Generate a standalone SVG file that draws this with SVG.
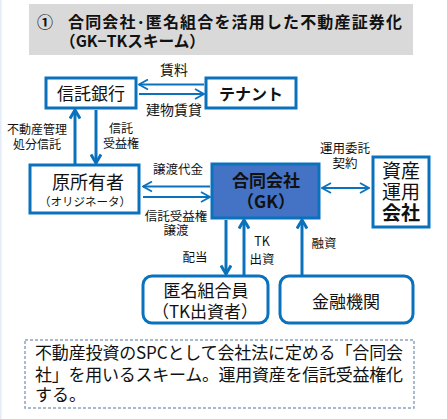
<svg xmlns="http://www.w3.org/2000/svg" width="447" height="419" viewBox="0 0 447 419">
<style>
text{font-family:"Noto Sans CJK JP","Noto Sans",sans-serif;fill:#111}
.box{fill:#fff;stroke:#0a72bd;stroke-width:3}
.lbl{font-size:12.5px;text-anchor:middle}
.c{text-anchor:middle}
.thin{stroke:#0a72bd;stroke-width:2;fill:none}
.thick{stroke:#0a72bd;stroke-width:3;fill:none}
</style>
<defs>
<marker id="ah" viewBox="0 0 12 12" refX="11" refY="6" markerWidth="12" markerHeight="12" markerUnits="userSpaceOnUse" orient="auto-start-reverse">
<path d="M2,1 L11,6 L2,11" fill="none" stroke="#0a72bd" stroke-width="1.8"/>
</marker>
<marker id="ahb" viewBox="0 0 12 12" refX="10.5" refY="6" markerWidth="12" markerHeight="12" markerUnits="userSpaceOnUse" orient="auto-start-reverse">
<path d="M2,1 L10.5,6 L2,11" fill="none" stroke="#0a72bd" stroke-width="3"/>
</marker>
</defs>
<rect x="0" y="0" width="447" height="419" fill="#fff"/>
<rect x="0" y="0" width="1.5" height="419" fill="#e2ebf6"/>

<g id="title">
<rect x="29" y="4" width="384" height="51" fill="#d9d9d9"/>
<text x="37" y="28" font-size="16" font-weight="bold">①</text>
<text x="68" y="28" font-size="16" font-weight="bold" textLength="334" lengthAdjust="spacing">合同会社･匿名組合を活用した不動産証券化</text>
<text x="60" y="47" font-size="16" font-weight="bold" textLength="145" lengthAdjust="spacingAndGlyphs">（GK−TKスキーム）</text>
</g>

<g id="connectors">
<line class="thin" x1="204" y1="84.5" x2="139" y2="84.5" marker-end="url(#ah)"/>
<line class="thin" x1="139" y1="94" x2="204" y2="94" marker-end="url(#ah)"/>
<line class="thick" x1="75" y1="164" x2="75" y2="110" marker-end="url(#ahb)"/>
<line class="thick" x1="96" y1="110" x2="96" y2="163" marker-end="url(#ahb)"/>
<line class="thin" x1="210" y1="186.5" x2="143" y2="186.5" marker-end="url(#ah)"/>
<line class="thin" x1="143" y1="197" x2="210" y2="197" marker-end="url(#ah)"/>
<line class="thin" x1="322" y1="188" x2="369" y2="188" marker-start="url(#ah)" marker-end="url(#ah)"/>
<line class="thick" x1="226" y1="220" x2="226" y2="274" marker-end="url(#ahb)"/>
<line class="thick" x1="244" y1="276" x2="244" y2="220" marker-end="url(#ahb)"/>
<line class="thick" x1="302" y1="276" x2="302" y2="220" marker-end="url(#ahb)"/>
</g>

<g id="labels">
<text class="c" x="174" y="75" font-size="14">賃料</text>
<text class="c" x="174" y="115" font-size="14">建物賃貸</text>
<text class="c" x="37" y="134" font-size="12">不動産管理</text>
<text class="c" x="37" y="149" font-size="12">処分信託</text>
<text class="c" x="121" y="133" font-size="12">信託</text>
<text class="c" x="121" y="148" font-size="12">受益権</text>
<text class="lbl" x="178" y="174">譲渡代金</text>
<text class="lbl" x="176" y="221" font-size="13">信託受益権</text>
<text class="lbl" x="176" y="235" font-size="13">譲渡</text>
<text class="lbl" x="345" y="153">運用委託</text>
<text class="lbl" x="345" y="168">契約</text>
<text class="lbl" x="195" y="262" font-size="13">配当</text>
<text class="lbl" x="262" y="246" font-size="13">TK</text>
<text class="lbl" x="262" y="264" font-size="13">出資</text>
<text class="lbl" x="324" y="248" font-size="13.5">融資</text>
</g>

<g id="shintaku">
<rect class="box" x="46" y="78" width="90" height="30"/>
<text class="c" x="91" y="100" font-size="17">信託銀行</text>
</g>
<g id="tenant">
<rect class="box" x="206" y="78" width="90" height="30"/>
<text class="c" x="251" y="100" font-size="16" font-weight="bold">テナント</text>
</g>
<g id="originator">
<rect class="box" x="30" y="165" width="109" height="48"/>
<text class="c" x="88" y="189" font-size="18">原所有者</text>
<text class="c" x="85" y="206" font-size="11.5">（オリジネータ）</text>
</g>
<g id="gk">
<rect x="212" y="164" width="107" height="54" fill="#4472c4" stroke="#0a72bd" stroke-width="3"/>
<text class="c" x="266" y="187" font-size="17" font-weight="bold">合同会社</text>
<text class="c" x="266" y="208" font-size="17" font-weight="bold">（GK）</text>
</g>
<g id="am">
<rect class="box" x="373" y="157" width="56" height="70"/>
<text class="c" x="401" y="178" font-size="19">資産</text>
<text class="c" x="401" y="199" font-size="19">運用</text>
<text class="c" x="401" y="220" font-size="19" font-weight="bold">会社</text>
</g>
<g id="tk">
<rect class="box" x="143" y="276" width="125" height="47" rx="9"/>
<text class="c" x="206" y="297" font-size="17">匿名組合員</text>
<text class="c" x="205" y="318" font-size="17">（TK出資者）</text>
</g>
<g id="bank">
<rect class="box" x="280" y="276" width="133" height="47" rx="9"/>
<text class="c" x="346" y="308" font-size="17">金融機関</text>
</g>

<g id="note">
<rect x="25" y="340" width="389" height="68" fill="#fff" stroke="#8fa2bf" stroke-width="1.5" stroke-dasharray="3,2"/>
<text x="35" y="359" font-size="17" textLength="368" lengthAdjust="spacing">不動産投資のSPCとして会社法に定める「合同会</text>
<text x="35" y="381" font-size="17" textLength="368" lengthAdjust="spacing">社」を用いるスキーム。運用資産を信託受益権化</text>
<text x="35" y="401" font-size="17">する。</text>
</g>
</svg>
